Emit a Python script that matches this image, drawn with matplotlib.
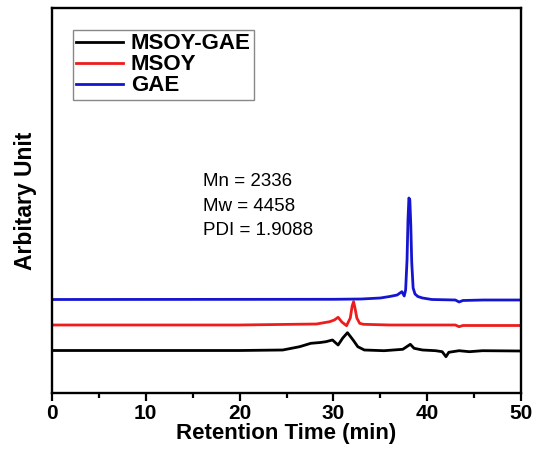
import matplotlib
matplotlib.use("Agg")
import matplotlib.pyplot as plt
from matplotlib.ticker import MultipleLocator

plt.rcParams['font.family'] = ['Liberation Sans', 'DejaVu Sans']

# Retention time (min) and detector response (arbitrary units, offset traces)
t_blend = [0, 20, 24.6, 26.4, 27.6, 28.6, 29.2, 29.9, 30.5, 31.0, 31.5, 32.1, 32.6, 33.3,
           35.4, 37.4, 38.2, 38.6, 39.5, 40.9, 41.6, 42.0, 42.3, 43.4, 44.5, 45.9, 50]
y_blend = [42.5, 42.5, 43, 46.3, 49.7, 50.5, 51.3, 53, 48, 55, 60.3, 53, 46.3, 43,
           42.3, 43.7, 48.7, 44.7, 43, 42.3, 41.3, 36.3, 40.7, 42.3, 41.3, 42.3, 42]

t_msoy = [0, 20, 28.2, 29.6, 30.1, 30.5, 30.9, 31.4, 31.8, 32.0, 32.15, 32.3, 32.5, 32.8,
          33.2, 36, 40, 43.0, 43.4, 43.8, 46, 50]
y_msoy = [68, 68, 69, 71.3, 73, 75.7, 71, 67.3, 75, 87, 91.3, 85, 75, 69.7,
          68.7, 68, 68, 68, 66.3, 67.5, 67.5, 67.5]

t_gae = [0, 30, 33, 35, 36, 36.8, 37.3, 37.55, 37.7, 37.85, 37.95, 38.05, 38.15, 38.25,
         38.35, 38.5, 38.7, 39.0, 39.5, 40.5, 43.0, 43.4, 43.8, 46, 50]
y_gae = [93.5, 93.7, 94, 95, 96.5, 98, 101.3, 97, 103, 133, 173, 195, 193, 168,
         131, 105, 99, 96.5, 95, 93.5, 93, 91, 92.5, 93, 93]

labels = ["MSOY-GAE", "MSOY", "GAE"]
colors = ["black", "#ee1c1c", "#1515d0"]
stats = ["Mn = 2336", "Mw = 4458", "PDI = 1.9088"]

W, H = 541, 449
fig = plt.figure(figsize=(W / 100, H / 100), dpi=100)
left, right, top, bottom = 52, 521, 8, 393
ax = fig.add_axes([left / W, 1 - bottom / H, (right - left) / W, (bottom - top) / H])

for tt, yy, lab, c in zip([t_blend, t_msoy, t_gae], [y_blend, y_msoy, y_gae], labels, colors):
    ax.plot(tt, yy, color=c, lw=2.0, label=lab)

ax.set_xlim(0, 50)
ax.set_ylim(0, 385)
ax.xaxis.set_major_locator(MultipleLocator(10))
ax.xaxis.set_minor_locator(MultipleLocator(5))
ax.set_yticks([])
ax.tick_params(axis='x', which='major', direction='out', length=6, width=1.6,
               labelsize=15, pad=2)
ax.tick_params(axis='x', which='minor', direction='out', length=3.5, width=1.6)
for lbl in ax.get_xticklabels():
    lbl.set_fontweight('bold')
for s in ax.spines.values():
    s.set_linewidth(1.7)

ax.set_xlabel("Retention Time (min)", fontsize=16, fontweight='bold', labelpad=0)
ax.set_ylabel("Arbitary Unit", fontsize=16.5, fontweight='bold', labelpad=11)

for i, s in enumerate(stats):
    ax.text(203 / W, 1 - (182 + 24.5 * i) / H, s, transform=fig.transFigure,
            fontsize=13.5, va='center', ha='left')

leg = ax.legend(loc='upper left', bbox_to_anchor=((73 - left) / (right - left), 1 - (30 - top) / (bottom - top)),
                borderaxespad=0, fancybox=False, framealpha=1, edgecolor='#888888',
                prop={'size': 16, 'weight': 'bold'}, handlelength=2.1, handletextpad=0.35,
                labelspacing=0.0, borderpad=0.15, handleheight=0.6)
leg.get_frame().set_linewidth(1.0)

fig.savefig("out.png", dpi=100)
